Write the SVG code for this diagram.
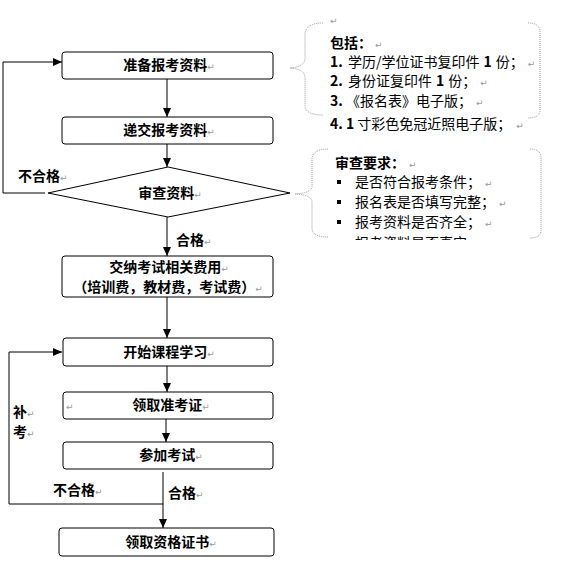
<svg xmlns="http://www.w3.org/2000/svg" width="581" height="571" viewBox="0 0 581 571">
<style>
.box{fill:#fff;stroke:#000;stroke-width:1}
.t{font-family:"Noto Sans CJK SC","Liberation Sans",sans-serif;font-size:14px;font-weight:bold;fill:#000}
.r{font-family:"Noto Sans CJK SC","Liberation Sans",sans-serif;font-size:14px;fill:#000}
.rb{font-weight:bold}
.pm{font-family:"DejaVu Sans",sans-serif;font-size:9px;fill:#999;font-weight:normal}
.ln{fill:none;stroke:#000;stroke-width:1}
.br{fill:none;stroke:#999;stroke-width:1;stroke-dasharray:1 1}
</style>
<defs>
<marker id="ah" markerWidth="10" markerHeight="10" refX="9" refY="5" orient="auto" markerUnits="userSpaceOnUse">
<path d="M0,1 L9,5 L0,9 Z" fill="#000"/>
</marker>
<clipPath id="cl"><rect x="300" y="140" width="260" height="100"/></clipPath>
</defs>
<rect width="581" height="571" fill="#fff"/>

<g id="connectors">
<line class="ln" x1="167" y1="79" x2="167" y2="117" marker-end="url(#ah)"/>
<line class="ln" x1="167" y1="144" x2="167" y2="167" marker-end="url(#ah)"/>
<line class="ln" x1="167" y1="217" x2="167" y2="256" marker-end="url(#ah)"/>
<polyline class="ln" points="45,193 3,193 3,62 62,62" marker-end="url(#ah)"/>
<line class="ln" x1="167" y1="297" x2="167" y2="338" marker-end="url(#ah)"/>
<line class="ln" x1="167" y1="366" x2="167" y2="392" marker-end="url(#ah)"/>
<line class="ln" x1="166" y1="419" x2="166" y2="442" marker-end="url(#ah)"/>
<line class="ln" x1="163" y1="472" x2="163" y2="528" marker-end="url(#ah)"/>
<polyline class="ln" points="163,504 9,504 9,352 62,352" marker-end="url(#ah)"/>
<text class="t" x="18" y="181">不合格<tspan class="pm">↵</tspan></text>
<text class="t" x="176" y="245">合格<tspan class="pm">↵</tspan></text>
<text class="t" x="13" y="417">补<tspan class="pm">↵</tspan></text>
<text class="t" x="13" y="437">考<tspan class="pm">↵</tspan></text>
<text class="t" x="53" y="495">不合格<tspan class="pm">↵</tspan></text>
<text class="t" x="168" y="498">合格<tspan class="pm">↵</tspan></text>
</g>

<g id="n1">
<rect class="box" x="62" y="52" width="211" height="27" rx="3"/>
<text class="t" x="169" y="70" text-anchor="middle">准备报考资料<tspan class="pm">↵</tspan></text>
</g>
<g id="n2">
<rect class="box" x="62" y="117" width="211" height="27" rx="3"/>
<text class="t" x="169" y="135" text-anchor="middle">递交报考资料<tspan class="pm">↵</tspan></text>
</g>
<g id="n3">
<polygon class="box" points="48,193 168,167 290,193 168,217"/>
<text class="t" x="170" y="198" text-anchor="middle">审查资料<tspan class="pm">↵</tspan></text>
</g>
<g id="n4">
<rect class="box" x="62" y="256" width="211" height="41" rx="3"/>
<text class="t" x="169" y="272" text-anchor="middle">交纳考试相关费用<tspan class="pm">↵</tspan></text>
<text class="t" x="168" y="292" text-anchor="middle">（培训费，教材费，考试费）<tspan class="pm">↵</tspan></text>
</g>
<g id="n5">
<rect class="box" x="63" y="338" width="210" height="28" rx="3"/>
<text class="t" x="169" y="357" text-anchor="middle">开始课程学习<tspan class="pm">↵</tspan></text>
</g>
<g id="n6">
<rect class="box" x="63" y="392" width="210" height="27" rx="3"/>
<text class="pm" x="66" y="410">↵</text>
<text class="t" x="171" y="410" text-anchor="middle">领取准考证<tspan class="pm">↵</tspan></text>
</g>
<g id="n7">
<rect class="box" x="63" y="442" width="210" height="27" rx="3"/>
<text class="t" x="171" y="460" text-anchor="middle">参加考试<tspan class="pm">↵</tspan></text>
</g>
<g id="n8">
<rect class="box" x="59" y="528" width="215" height="28" rx="3"/>
<text class="t" x="171" y="547" text-anchor="middle">领取资格证书<tspan class="pm">↵</tspan></text>
</g>

<g id="note1">
<path class="br" d="M323,23 Q305,23 305,35 L305,58 Q305,67 290,68 Q305,69 305,78 L305,105 Q305,115 323,115"/>
<path class="br" d="M528,23 Q540,23 540,32 L540,110 Q540,118 528,118"/>
<text class="pm" x="330" y="24">↵</text>
<text class="r rb" x="330" y="48">包括：<tspan class="pm" dx="3">↵</tspan></text>
<text class="r" x="330" y="67"><tspan class="rb">1.</tspan><tspan x="348">学历/学位证书复印件</tspan><tspan class="rb" dx="4">1</tspan><tspan dx="4">份；</tspan><tspan class="pm" dx="4">↵</tspan></text>
<text class="r" x="330" y="86"><tspan class="rb">2.</tspan><tspan x="348">身份证复印件</tspan><tspan class="rb" dx="4">1</tspan><tspan dx="4">份；</tspan><tspan class="pm" dx="4">↵</tspan></text>
<text class="r" x="330" y="106"><tspan class="rb">3.</tspan><tspan x="346">《报名表》电子版；</tspan><tspan class="pm" dx="4">↵</tspan></text>
<text class="r" x="330" y="129"><tspan class="rb">4.</tspan><tspan class="rb" x="346">1</tspan><tspan dx="3">寸彩色免冠近照电子版；</tspan><tspan class="pm" dx="5">↵</tspan></text>
</g>

<g id="note2">
<path class="br" d="M328,149 Q312,149 312,160 L312,186 Q312,193 295,194 Q312,195 312,202 L312,228 Q312,237 328,237"/>
<path class="br" d="M530,149 Q541,149 541,158 L541,230 Q541,238 530,238"/>
<text class="r rb" x="335" y="168">审查要求：<tspan class="pm" dx="4">↵</tspan></text>
<g clip-path="url(#cl)">
<rect x="337" y="180" width="4" height="4" fill="#000"/>
<rect x="337" y="200" width="4" height="4" fill="#000"/>
<rect x="337" y="220" width="4" height="4" fill="#000"/>
<rect x="337" y="240" width="4" height="4" fill="#000"/>
<text class="r" x="355" y="187">是否符合报考条件；<tspan class="pm" dx="4">↵</tspan></text>
<text class="r" x="355" y="207">报名表是否填写完整；<tspan class="pm" dx="4">↵</tspan></text>
<text class="r" x="355" y="227">报考资料是否齐全；<tspan class="pm" dx="4">↵</tspan></text>
<text class="r" x="355" y="248">报考资料是否真实<tspan class="pm" dx="12">↵</tspan></text>
</g>
</g>
</svg>
